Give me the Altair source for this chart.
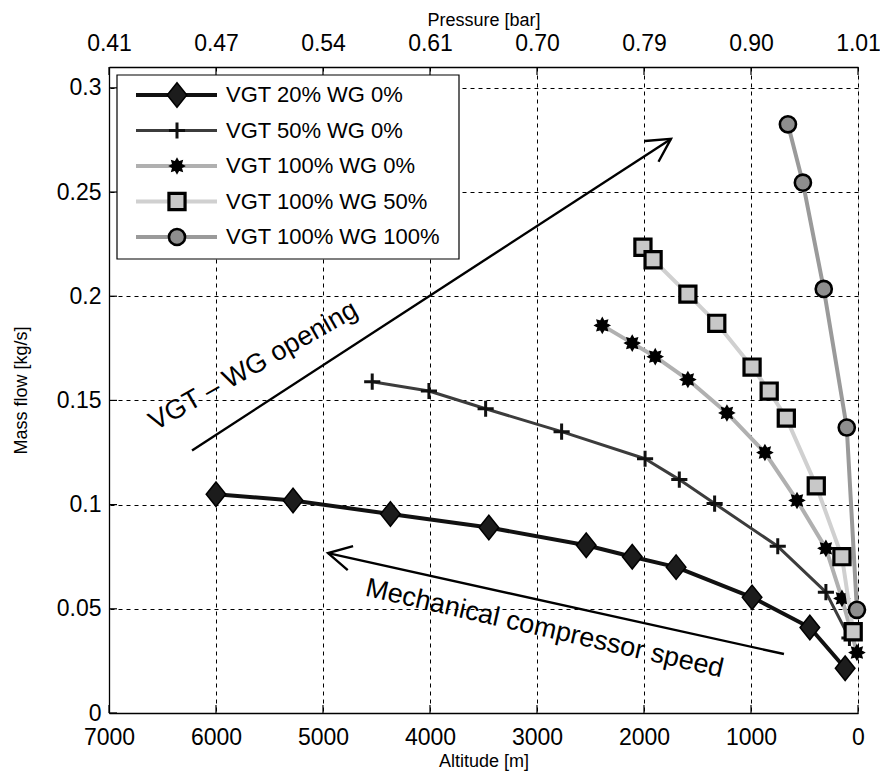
import math
import altair as alt
import pandas as pd

# ------------------------------------------------------------------ data
series_names = ["VGT 20% WG 0%", "VGT 50% WG 0%", "VGT 100% WG 0%",
                "VGT 100% WG 50%", "VGT 100% WG 100%"]

alt_s1 = [6000, 5280, 4370, 3450, 2540, 2110, 1700, 990, 450, 120]
mf_s1 = [0.105, 0.102, 0.0955, 0.089, 0.0805, 0.075, 0.070, 0.0555, 0.041, 0.0215]

alt_s2 = [4540, 4010, 3480, 2770, 1990, 1670, 1340, 750, 300, 80]
mf_s2 = [0.159, 0.1545, 0.146, 0.135, 0.122, 0.112, 0.1005, 0.080, 0.058, 0.036]

alt_s3 = [2390, 2110, 1895, 1590, 1225, 870, 570, 300, 150, 10]
mf_s3 = [0.186, 0.1775, 0.171, 0.160, 0.144, 0.125, 0.102, 0.079, 0.055, 0.029]

alt_s4 = [2010, 1915, 1590, 1320, 990, 830, 670, 390, 150, 45]
mf_s4 = [0.2235, 0.2175, 0.201, 0.187, 0.166, 0.1545, 0.1415, 0.109, 0.075, 0.039]

alt_s5 = [655, 515, 320, 105, 10]
mf_s5 = [0.2825, 0.2545, 0.2035, 0.137, 0.0495]

altitude_ticks = [7000, 6000, 5000, 4000, 3000, 2000, 1000, 0]
pressure_labels = ["0.41", "0.47", "0.54", "0.61", "0.70", "0.79", "0.90", "1.01"]
massflow_ticks = [0, 0.05, 0.1, 0.15, 0.2, 0.25, 0.3]

arrow_texts = ["VGT \u2013 WG opening", "Mechanical compressor speed"]
arrow_tail_alt = [6224, 692]
arrow_tail_mf = [0.126, 0.0283]
arrow_tip_alt = [1748, 4953]
arrow_tip_mf = [0.2755, 0.0767]
label_alt = [5650, 2930]
label_mf = [0.1665, 0.0405]

# ------------------------------------------------------------------ layout / style
FONT = "Liberation Sans"
W, H = 749, 646
X_MAX, Y_MAX = 7000, 0.31
PX_X = X_MAX / W      # altitude units per pixel
PX_Y = Y_MAX / H      # mass-flow units per pixel

XS = alt.Scale(domain=[0, X_MAX], reverse=True, nice=False, zero=False)
YS = alt.Scale(domain=[0, Y_MAX], nice=False, zero=False)

GRID = dict(grid=True, gridDash=[4, 4], gridColor="black", gridOpacity=1, gridWidth=1)
LAB = dict(labelFont=FONT, labelFontSize=23, labelColor="black", labelFlush=False,
           labelOverlap=False, titleFont=FONT, titleFontSize=18, titleFontWeight="normal",
           titleColor="black", domainColor="black", domainWidth=1.3, ticks=False)

X_AXIS = alt.Axis(values=altitude_ticks, title="Altitude [m]", format="d", labelPadding=13,
                  titleY=48, titleBaseline="middle", **GRID, **LAB)
Y_AXIS = alt.Axis(values=massflow_ticks, title="Mass flow [kg/s]", format="~g", labelPadding=8,
                  titleX=-88, titleBaseline="middle", **GRID, **LAB)

expr = "''"
for v, lab in reversed(list(zip(altitude_ticks, pressure_labels))):
    expr = f"datum.value == {v} ? '{lab}' : ({expr})"
TOP_AXIS = alt.Axis(orient="top", values=altitude_ticks, title="Pressure [bar]", labelExpr=expr,
                    labelPadding=12, titleY=-47, titleBaseline="middle", grid=False, **LAB)


def xe(field="x", axis=X_AXIS):
    return alt.X(f"{field}:Q", scale=XS, axis=axis)


def ye(field="y"):
    return alt.Y(f"{field}:Q", scale=YS, axis=Y_AXIS)


def path_star(n=8, r_in=0.62):
    pts = []
    for k in range(2 * n):
        r = 1.0 if k % 2 == 0 else r_in
        a = math.pi * k / n
        pts.append(f"{r * math.cos(a):.3f},{r * math.sin(a):.3f}")
    return "M" + "L".join(pts) + "Z"


DIAMOND = "M0,-1L0.8,0L0,1L-0.8,0Z"
PLUS = "M-1,0L1,0M0,-1L0,1"
ARROWHEAD = "M-1,-0.54L0,0L-1,0.54"

styles = [
    dict(line="#111111", lw=4.0, shape=DIAMOND, fill="#1c1c1c", stroke="black", sw=1.5, size=600, filled=True),
    dict(line="#3c3c3c", lw=3.0, shape=PLUS, fill="none", stroke="#111111", sw=3, size=260, filled=False),
    dict(line="#b0b0b0", lw=4.0, shape=path_star(), fill="black", stroke="black", sw=1.5, size=210, filled=True),
    dict(line="#d0d0d0", lw=4.0, shape="square", fill="#c8c8c8", stroke="black", sw=3.2, size=260, filled=True),
    dict(line="#9a9a9a", lw=4.0, shape="circle", fill="#8e8e8e", stroke="black", sw=2.6, size=260, filled=True),
]
series_x = [alt_s1, alt_s2, alt_s3, alt_s4, alt_s5]
series_y = [mf_s1, mf_s2, mf_s3, mf_s4, mf_s5]

# legend placement (pixel offsets inside the plot area converted to data units)
LEG_LEFT, LEG_RIGHT, LEG_TOP, LEG_BOTTOM = 8, 350, 8, 192
LEG_ROW0, LEG_ROW_STEP = 28, 35.5
LEG_L1, LEG_L2, LEG_M, LEG_T = 27, 108, 68, 117


def dx(px):
    return X_MAX - px * PX_X


def dy(py):
    return Y_MAX - py * PX_Y


layers = []

# inward ticks (bottom, top, left)
tick_len = 8
tb = pd.DataFrame({"x": altitude_ticks, "x2": altitude_ticks,
                   "y": [0] * 8, "y2": [tick_len * PX_Y] * 8})
tt = pd.DataFrame({"x": altitude_ticks, "x2": altitude_ticks,
                   "y": [Y_MAX] * 8, "y2": [Y_MAX - tick_len * PX_Y] * 8})
tl = pd.DataFrame({"x": [X_MAX] * 7, "x2": [X_MAX - tick_len * PX_X] * 7,
                   "y": massflow_ticks, "y2": massflow_ticks})
for d in (tb, tt, tl):
    layers.append(alt.Chart(d).mark_rule(color="black", strokeWidth=1.2).encode(
        x=xe(), x2="x2:Q", y=ye(), y2="y2:Q"))

# legend box
box = pd.DataFrame({"x": [dx(LEG_LEFT)], "x2": [dx(LEG_RIGHT)],
                    "y": [dy(LEG_TOP)], "y2": [dy(LEG_BOTTOM)]})
layers.append(alt.Chart(box).mark_rect(fill="white", stroke="black", strokeWidth=1.2).encode(
    x=xe(), x2="x2:Q", y=ye(), y2="y2:Q"))

# series
for i, (xs, ys, st) in enumerate(zip(series_x, series_y, styles)):
    df = pd.DataFrame({"x": xs, "y": ys, "o": list(range(len(xs)))})
    layers.append(alt.Chart(df).mark_line(color=st["line"], strokeWidth=st["lw"],
                                          strokeJoin="round").encode(
        x=xe(), y=ye(), order="o:Q"))
    pkw = dict(shape=st["shape"], size=st["size"], stroke=st["stroke"],
               strokeWidth=st["sw"], opacity=1, filled=st["filled"])
    if st["filled"]:
        pkw["fill"] = st["fill"]
    layers.append(alt.Chart(df).mark_point(**pkw).encode(x=xe(), y=ye()))

    # legend glyphs
    ry = dy(LEG_ROW0 + i * LEG_ROW_STEP)
    lg = pd.DataFrame({"x": [dx(LEG_L1)], "x2": [dx(LEG_L2)], "y": [ry]})
    layers.append(alt.Chart(lg).mark_rule(color=st["line"], strokeWidth=st["lw"]).encode(
        x=xe(), x2="x2:Q", y=ye()))
    lp = pd.DataFrame({"x": [dx(LEG_M)], "y": [ry]})
    layers.append(alt.Chart(lp).mark_point(**pkw).encode(x=xe(), y=ye()))

leg_text = pd.DataFrame({"x": [dx(LEG_T)] * 5,
                         "y": [dy(LEG_ROW0 + i * LEG_ROW_STEP) for i in range(5)],
                         "t": series_names})
layers.append(alt.Chart(leg_text).mark_text(align="left", baseline="middle", font=FONT,
                                            fontSize=22, color="black").encode(
    x=xe(), y=ye(), text="t:N"))

# annotation arrows
arr = pd.DataFrame({"x": arrow_tail_alt, "x2": arrow_tip_alt,
                    "y": arrow_tail_mf, "y2": arrow_tip_mf})
layers.append(alt.Chart(arr).mark_rule(color="black", strokeWidth=2.4).encode(
    x=xe(), x2="x2:Q", y=ye(), y2="y2:Q"))
for k in range(2):
    ang_rad = math.atan2(-(arrow_tip_mf[k] - arrow_tail_mf[k]) / PX_Y,
                         -(arrow_tip_alt[k] - arrow_tail_alt[k]) / PX_X)
    ang = math.degrees(ang_rad) % 360
    hd = pd.DataFrame({"x": [arrow_tip_alt[k]], "y": [arrow_tip_mf[k]]})
    layers.append(alt.Chart(hd).mark_point(shape=ARROWHEAD, filled=False, stroke="black",
                                           strokeWidth=2.4, size=2100, angle=ang,
                                           opacity=1).encode(x=xe(), y=ye()))
    tdf = pd.DataFrame({"x": [label_alt[k]], "y": [label_mf[k]], "t": [arrow_texts[k]]})
    tang = [330.4, 12.9][k]
    layers.append(alt.Chart(tdf).mark_text(font=FONT, fontSize=27, color="black",
                                           angle=tang, align="center",
                                           baseline="middle").encode(
        x=xe(), y=ye(), text="t:N"))

main = alt.layer(*layers)

top = alt.Chart(pd.DataFrame({"x": [0, X_MAX], "y": [Y_MAX, Y_MAX]})).mark_point(
    opacity=0, size=1).encode(x=xe(axis=TOP_AXIS), y=ye())

chart = alt.layer(main, top).resolve_axis(x="independent").properties(
    width=W, height=H,
    autosize=alt.AutoSizeParams(type="none"),
    padding={"left": 101, "top": 59, "right": 22, "bottom": 60},
).configure_view(stroke=None).configure(background="white")

chart.save("out.html", embed_options={"renderer": "svg", "actions": False})
